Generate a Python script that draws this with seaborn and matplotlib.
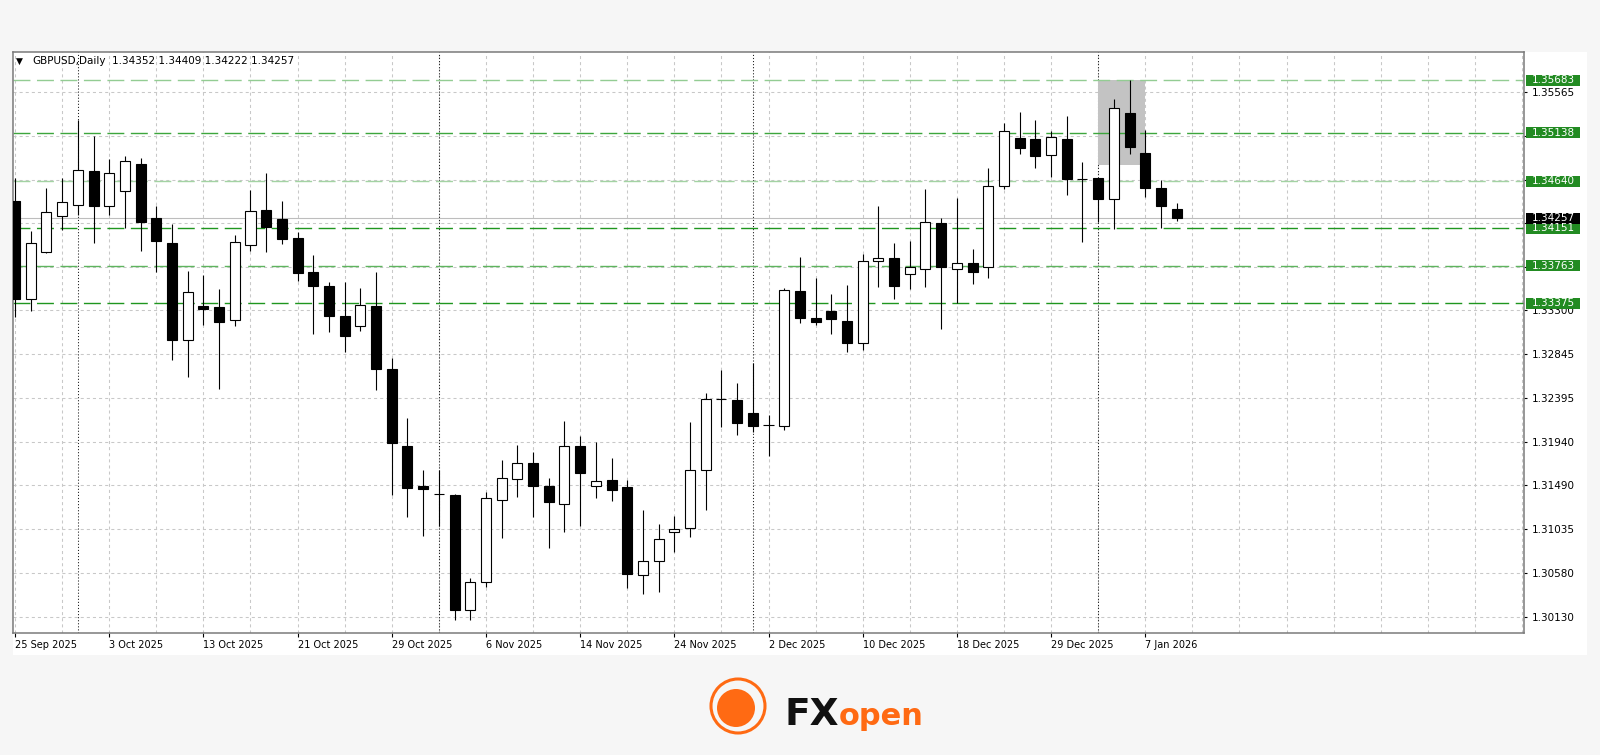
import numpy as np
import pandas as pd
import matplotlib
matplotlib.use("Agg")
import matplotlib.pyplot as plt
import matplotlib.transforms as mtransforms
from matplotlib.patches import Rectangle, Circle
import seaborn as sns

sns.set_theme(style="white")
plt.rcParams["font.family"] = ["DejaVu Sans"]
plt.rcParams["lines.scale_dashes"] = False

# GBPUSD daily bars (no bars on 25 Dec and 1 Jan)
dates = pd.bdate_range("2025-09-25", "2026-01-09")
dates = dates.drop(pd.to_datetime(["2025-12-25", "2026-01-01"]))

opens = [
    1.34434, 1.33419, 1.33902, 1.34281, 1.34392, 1.34747, 1.34382, 1.34534, 1.34817, 1.34258,
    1.34002, 1.32995, 1.33343, 1.33339, 1.33199, 1.33975, 1.34340, 1.34250, 1.34051, 1.33702,
    1.33554, 1.33246, 1.33136, 1.33350, 1.32694, 1.31894, 1.31480, 1.31397, 1.31390, 1.30200,
    1.30486, 1.31338, 1.31553, 1.31721, 1.31486, 1.31294, 1.31894, 1.31483, 1.31545, 1.31470,
    1.30562, 1.30710, 1.31010, 1.31045, 1.31646, 1.32381, 1.32374, 1.32236, 1.32115, 1.32107,
    1.33505, 1.33225, 1.33295, 1.33194, 1.32967, 1.33812, 1.33847, 1.33678, 1.33727, 1.34203,
    1.33727, 1.33789, 1.33753, 1.34589, 1.35083, 1.35072, 1.34910, 1.35072, 1.34661, 1.34669,
    1.34451, 1.35341, 1.34934, 1.34571, 1.34352,
]
highs = [
    1.34669, 1.34123, 1.34571, 1.34669, 1.35272, 1.35110, 1.34868, 1.34903, 1.34876, 1.34382,
    1.34192, 1.33712, 1.33667, 1.33523, 1.34082, 1.34547, 1.34720, 1.34434, 1.34117, 1.33875,
    1.33598, 1.33598, 1.33536, 1.33702, 1.32805, 1.32184, 1.31649, 1.31649, 1.31400, 1.30534,
    1.31424, 1.31749, 1.31908, 1.31838, 1.31563, 1.32156, 1.32001, 1.31936, 1.31770, 1.31545,
    1.31235, 1.31090, 1.31173, 1.32143, 1.32443, 1.32684, 1.32546, 1.32753, 1.32218, 1.33530,
    1.33851, 1.33633, 1.33471, 1.33564, 1.33885, 1.34385, 1.33996, 1.34023, 1.34558, 1.34261,
    1.34462, 1.33940, 1.34778, 1.35244, 1.35352, 1.35272, 1.35161, 1.35313, 1.34840, 1.34669,
    1.35486, 1.35686, 1.35169, 1.34651, 1.34409,
]
lows = [
    1.33236, 1.33295, 1.33895, 1.34133, 1.34289, 1.34002, 1.34289, 1.34154, 1.33919, 1.33702,
    1.32788, 1.32615, 1.33150, 1.32484, 1.33140, 1.33916, 1.33909, 1.33988, 1.33609, 1.33054,
    1.33077, 1.32870, 1.33085, 1.32474, 1.31390, 1.31165, 1.30969, 1.31069, 1.30096, 1.30096,
    1.30441, 1.30942, 1.31366, 1.31165, 1.30838, 1.31004, 1.31072, 1.31359, 1.31331, 1.30424,
    1.30365, 1.30383, 1.30797, 1.30952, 1.31235, 1.32091, 1.32011, 1.32042, 1.31794, 1.32063,
    1.33171, 1.33150, 1.33054, 1.32873, 1.32891, 1.33540, 1.33419, 1.33523, 1.33546, 1.33109,
    1.33375, 1.33571, 1.33640, 1.34555, 1.34917, 1.34772, 1.34685, 1.34496, 1.34012, 1.34216,
    1.34144, 1.34917, 1.34475, 1.34157, 1.34222,
]
closes = [
    1.33419, 1.33996, 1.34320, 1.34420, 1.34754, 1.34382, 1.34720, 1.34848, 1.34213, 1.34019,
    1.32995, 1.33488, 1.33316, 1.33181, 1.34006, 1.34330, 1.34168, 1.34037, 1.33685, 1.33554,
    1.33246, 1.33033, 1.33360, 1.32691, 1.31931, 1.31466, 1.31449, 1.31397, 1.30200, 1.30486,
    1.31359, 1.31569, 1.31721, 1.31486, 1.31318, 1.31894, 1.31618, 1.31535, 1.31442, 1.30572,
    1.30710, 1.30931, 1.31041, 1.31646, 1.32387, 1.32381, 1.32132, 1.32107, 1.32115, 1.33512,
    1.33225, 1.33184, 1.33209, 1.32960, 1.33812, 1.33847, 1.33557, 1.33753, 1.34219, 1.33753,
    1.33789, 1.33699, 1.34589, 1.35161, 1.34979, 1.34899, 1.35099, 1.34661, 1.34661, 1.34457,
    1.35393, 1.34989, 1.34568, 1.34385, 1.34257,
]

# horizontal support / resistance levels
levels = [1.35683, 1.35138, 1.34640, 1.34151, 1.33763, 1.33375]
level_colors = ["#93cc93", "#3da63d", "#a3d3a3", "#1f961f", "#5eb45e", "#1f961f"]

# grey highlight zone
zone_dates = ["2026-01-02", "2026-01-07"]
zone_prices = [1.34806, 1.35683]

price_ticks = [1.30130, 1.30580, 1.31035, 1.31490, 1.31940, 1.32395, 1.32845,
               1.33300, 1.33750, 1.34205, 1.34655, 1.35110, 1.35565]
hidden_ticks = [1.33750, 1.34205, 1.34655, 1.35110]
label_dates = ["2025-09-25", "2025-10-03", "2025-10-13", "2025-10-21", "2025-10-29",
               "2025-11-06", "2025-11-14", "2025-11-24", "2025-12-02", "2025-12-10",
               "2025-12-18", "2025-12-29", "2026-01-07"]

df = pd.DataFrame({"date": dates, "open": opens, "high": highs, "low": lows, "close": closes})
df["i"] = np.arange(len(df))
df["bull"] = df["close"] >= df["open"]
pos = {d: i for i, d in zip(df["i"], df["date"])}

W, H = 1600, 755
fig = plt.figure(figsize=(W / 100, H / 100), dpi=100, facecolor="#f6f6f6")
# white chart panel
fig.patches.append(Rectangle((13 / W, 100 / H), 1574 / W, 603 / H, transform=fig.transFigure,
                             facecolor="white", edgecolor="none", zorder=-5))
ax = fig.add_axes([13 / W, (H - 633.3) / H, 1511 / W, 581.3 / H])
ax.set_zorder(2)
ax.set_facecolor("white")

ymin, ymax = 1.29958, 1.35976
ax.set_xlim(-0.13, 96.13)
ax.set_ylim(ymin, ymax)
px = (ymax - ymin) / 581.3  # price per pixel

# grid
for t in price_ticks:
    ax.axhline(t, color="#c8c8c8", lw=0.75, dashes=(2.2, 2.2), zorder=0.5)
for i in range(0, 97, 3):
    ax.axvline(i, color="#c8c8c8", lw=0.75, dashes=(2.2, 2.2), zorder=0.5)

# month separators
month_start = df.groupby(df["date"].dt.to_period("M"))["i"].min().values[1:]
for i in month_start:
    ax.axvline(i, color="#222222", lw=0.75, dashes=(0.8, 1.4), zorder=0.6)

# grey zone
z0, z1 = pos[pd.Timestamp(zone_dates[0])], pos[pd.Timestamp(zone_dates[1])]
ax.add_patch(Rectangle((z0, zone_prices[0]), z1 - z0, zone_prices[1] - zone_prices[0],
                       facecolor="#c3c3c3", edgecolor="none", zorder=1))

# levels and current price line
for lv, c in zip(levels, level_colors):
    ax.axhline(lv, color=c, lw=1.0, dashes=(12.2, 4.7), zorder=1.2)
ax.axhline(closes[-1], color="#bdbdbd", lw=0.8, zorder=1.1)

# candles
ax.vlines(df["i"], df["low"], df["high"], color="black", lw=0.8, zorder=2)
body_lo = df[["open", "close"]].min(axis=1)
body_h = (df["close"] - df["open"]).abs().clip(lower=0.2 * px)
ax.bar(df["i"], body_h, bottom=body_lo, width=0.64,
       color=np.where(df["bull"], "white", "black"), edgecolor="black", linewidth=0.8, zorder=3)

# axes styling
for s in ax.spines.values():
    s.set_color("#7a7a7a")
    s.set_linewidth(1.1)
ax.yaxis.tick_right()
ax.set_yticks(price_ticks)
ax.set_yticklabels(["" if t in hidden_ticks else f"{t:.5f}" for t in price_ticks])
ax.set_xticks([pos[pd.Timestamp(d)] for d in label_dates])
ax.set_xticklabels([f"{pd.Timestamp(d).day} {pd.Timestamp(d):%b %Y}" for d in label_dates])
for lbl in ax.get_xticklabels():
    lbl.set_ha("left")
ax.tick_params(axis="y", right=True, left=False, direction="out", length=2.5, width=0.8,
               color="black", pad=3, labelsize=7.5, labelcolor="black")
ax.tick_params(axis="x", bottom=True, direction="out", length=3, width=0.8,
               color="black", pad=2, labelsize=7, labelcolor="black")
ax.grid(False)

# right-side price tags
tr = mtransforms.blended_transform_factory(ax.transAxes, ax.transData)
tag_x, tag_w, tag_h = 1.0013, 54 / 1511, 11 * px
for lv in levels:
    ax.add_patch(Rectangle((tag_x, lv - tag_h / 2), tag_w, tag_h, transform=tr,
                           facecolor="#228b22", edgecolor="none", clip_on=False, zorder=5))
    ax.text(tag_x + tag_w / 2, lv, f"{lv:.5f}", transform=tr, ha="center", va="center",
            color="white", fontsize=7.5, clip_on=False, zorder=6)
ax.add_patch(Rectangle((tag_x, closes[-1] - tag_h / 2), tag_w, tag_h, transform=tr,
                       facecolor="black", edgecolor="none", clip_on=False, zorder=5))
ax.text(tag_x + tag_w / 2, closes[-1], f"{closes[-1]:.5f}", transform=tr, ha="center",
        va="center", color="white", fontsize=7.5, clip_on=False, zorder=6)

# header
fig.text(16 / W, 1 - 61.5 / H, "\u25bc", fontsize=6.5, color="black", va="center", zorder=5)
fig.text(32 / W, 1 - 61.5 / H, "GBPUSD,Daily", fontsize=7.5, color="black", va="center",
         zorder=5)
fig.text(112 / W, 1 - 61.5 / H,
         " ".join(f"{v:.5f}" for v in (opens[-1], highs[-1], lows[-1], closes[-1])),
         fontsize=7.5, color="black", va="center", zorder=5)

# logo
orange = "#ff6a13"
fig.patches.append(Circle((7.38, (H - 706) / 100), 0.27, transform=fig.dpi_scale_trans,
                          facecolor="none", edgecolor=orange, linewidth=2.2))
fig.patches.append(Circle((7.36, (H - 708) / 100), 0.19, transform=fig.dpi_scale_trans,
                          facecolor=orange, edgecolor="none"))
fig.text(784 / W, (H - 725) / H, "FX", fontsize=27, fontweight="bold", color="#111111",
         va="baseline")
fig.text(839 / W, (H - 725) / H, "open", fontsize=22, fontweight="bold", color=orange,
         va="baseline")

fig.savefig("out.png", dpi=100, facecolor=fig.get_facecolor())
